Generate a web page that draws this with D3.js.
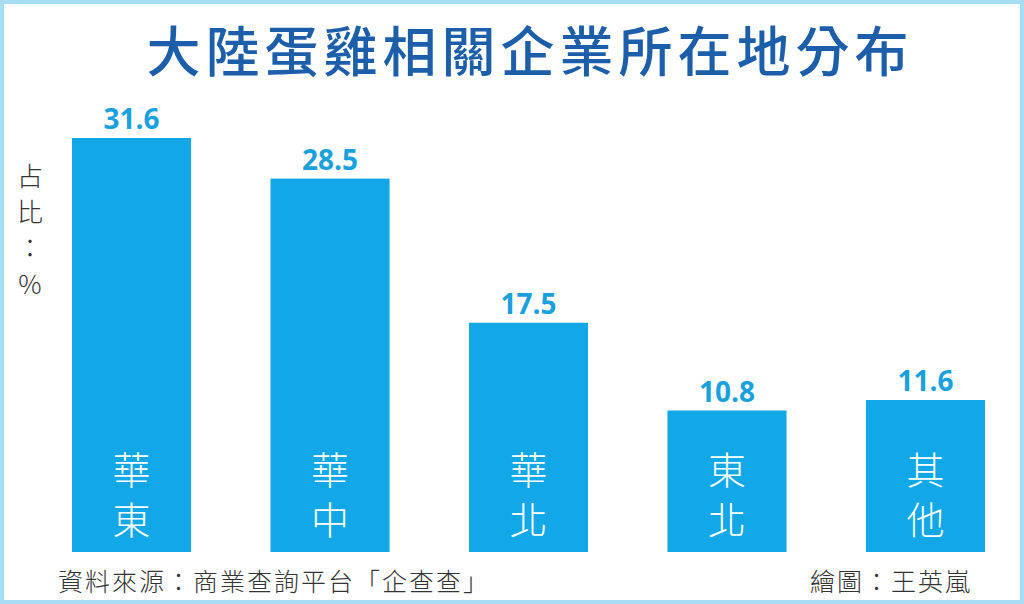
<!DOCTYPE html><html><head><meta charset="utf-8"><script src="https://cdn.jsdelivr.net/npm/d3@7"></script>
<style>body{margin:0;background:#fff}</style></head><body><svg id="c" width="1024" height="604"></svg>
<script>
const categories=[["華","東"],["華","中"],["華","北"],["東","北"],["其","他"]];
const values=[31.6,28.5,17.5,10.8,11.6];
const title="大陸蛋雞相關企業所在地分布";
const source="資料來源：商業查詢平台「企查查」";
const credit="繪圖：王英嵐";
const svg=d3.select("#c");
const F="'Noto Sans CJK TC','Noto Sans',sans-serif";
svg.append("rect").attr("x",2).attr("y",2).attr("width",1020).attr("height",600).attr("fill","#fff").attr("stroke","#a9ddf6").attr("stroke-width",4);
svg.append("text").attr("x",530).attr("y",72).attr("text-anchor","middle").attr("font-family",F).attr("font-weight",500).attr("font-size",54).attr("letter-spacing",5).attr("fill","#1c5ea9").text(title);
const x=d3.scaleBand().domain(d3.range(5)).range([72,985]).paddingInner(0.4).paddingOuter(0);
const y=d3.scaleLinear().domain([0,31.6]).range([552,138]);
const g=svg.selectAll("g.b").data(values).join("g");
g.append("rect").attr("x",(d,i)=>x(i)).attr("y",d=>y(d)).attr("width",x.bandwidth()).attr("height",d=>552-y(d)).attr("fill","#12a7e6");
g.append("text").attr("x",(d,i)=>x(i)+x.bandwidth()/2).attr("y",d=>y(d)-9).attr("text-anchor","middle").attr("font-family","'Open Sans',sans-serif").attr("font-weight",700).attr("font-size",28).attr("fill","#1aa1dd").text(d=>d.toFixed(1));
categories.forEach((c,i)=>c.forEach((ch,j)=>svg.append("text").attr("x",x(i)+x.bandwidth()/2).attr("y",484+j*50).attr("text-anchor","middle").attr("font-family",F).attr("font-weight",300).attr("font-size",38).attr("fill","#fff").text(ch)));
["占","比","：","%"].forEach((ch,j)=>svg.append("text").attr("x",30).attr("y",186+j*36).attr("text-anchor","middle").attr("font-family",F).attr("font-weight",300).attr("font-size",26).attr("fill","#333").text(ch));
svg.append("text").attr("x",58).attr("y",591).attr("font-family",F).attr("font-weight",300).attr("font-size",25).attr("letter-spacing",2).attr("fill","#333").text(source);
svg.append("text").attr("x",972).attr("y",591).attr("text-anchor","end").attr("font-family",F).attr("font-weight",300).attr("font-size",25).attr("letter-spacing",2).attr("fill","#333").text(credit);
</script></body></html>
